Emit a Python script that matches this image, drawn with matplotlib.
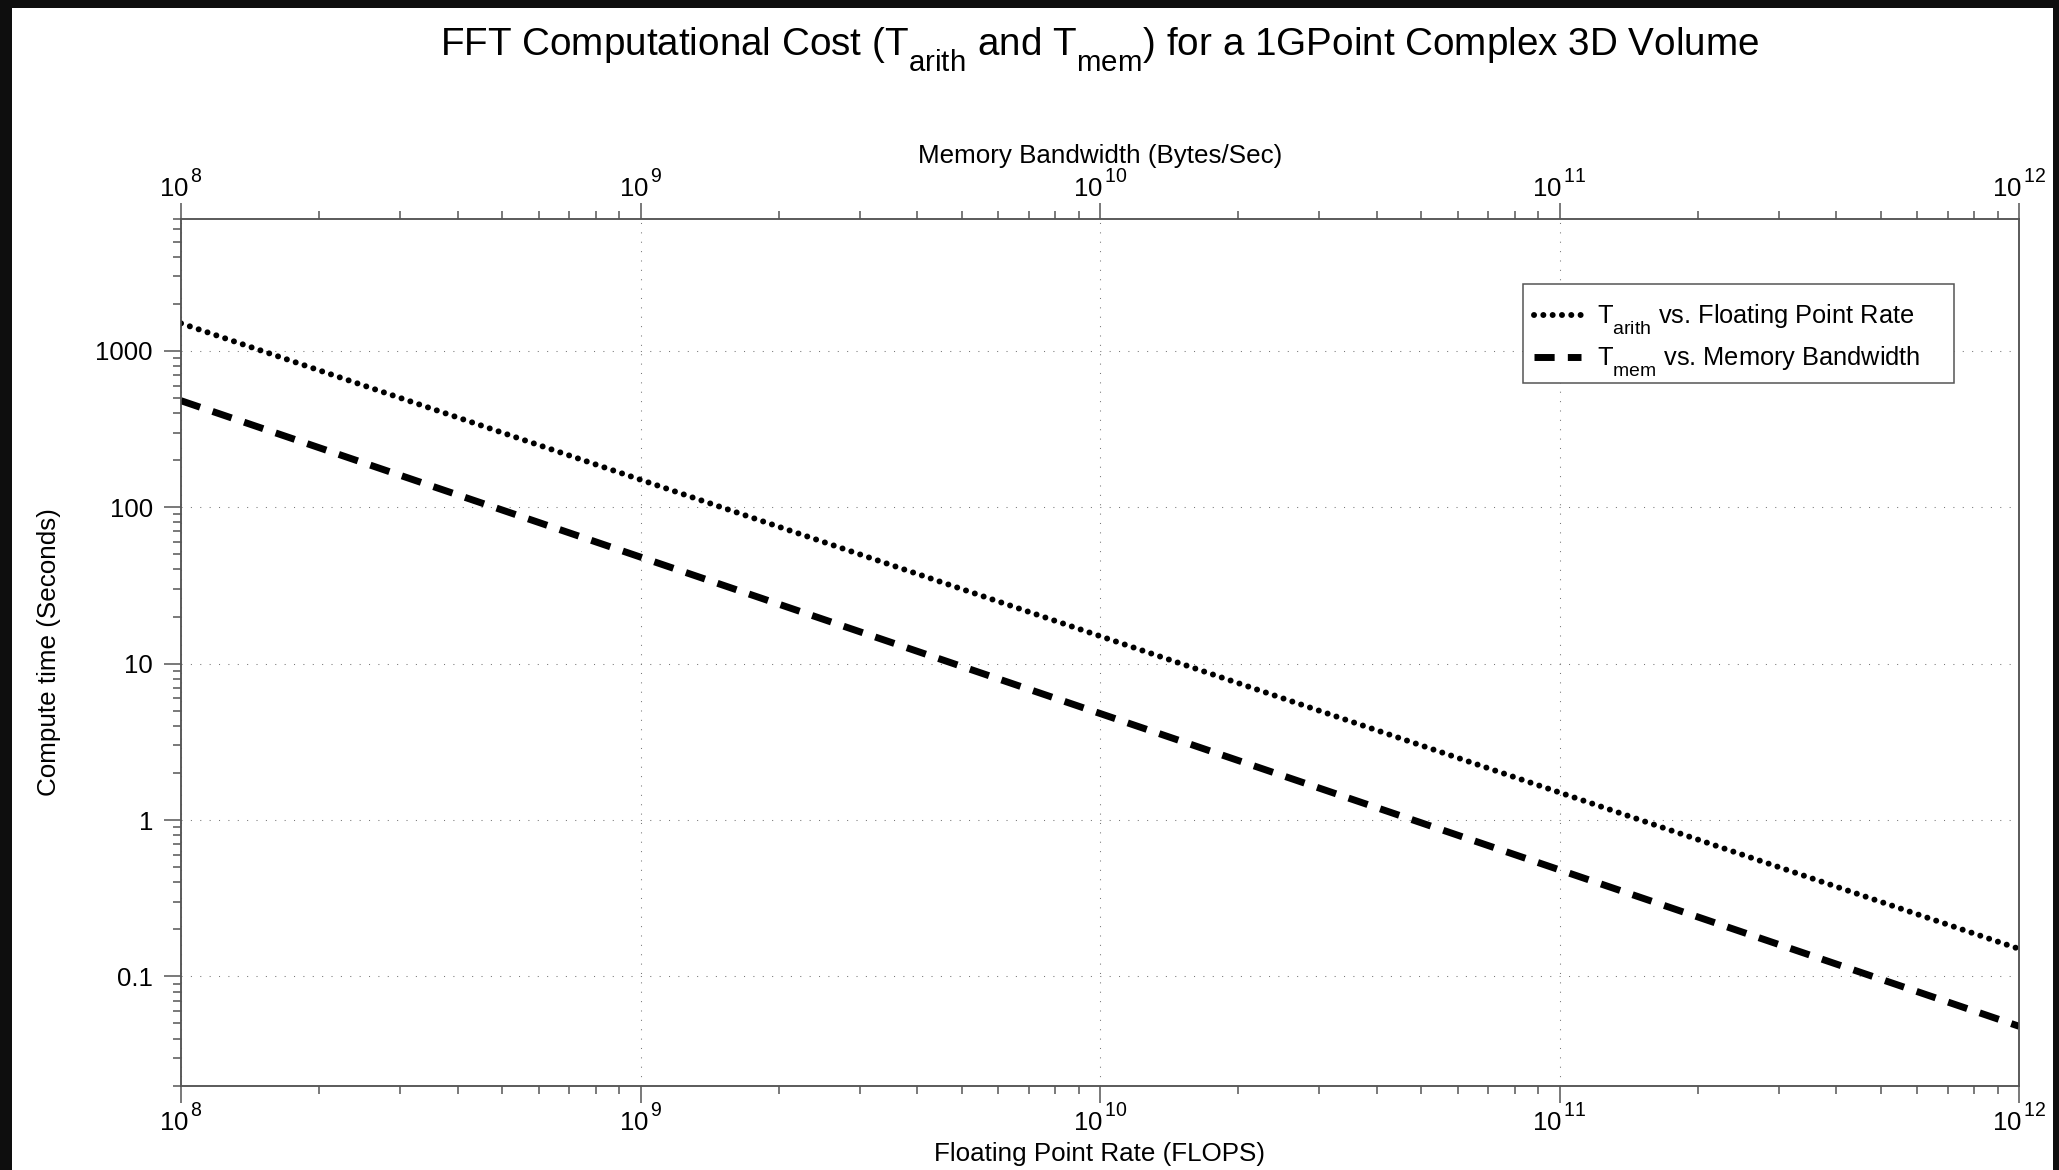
import matplotlib
matplotlib.use("Agg")
import matplotlib.pyplot as plt
import matplotlib._mathtext as _mt
from matplotlib.patches import Rectangle
from matplotlib.ticker import FixedLocator, FixedFormatter, NullFormatter, FuncFormatter
import numpy as np

# ---- data ----
rate = [1e8, 1e9, 1e10, 1e11, 1e12]            # FLOPS / Bytes per second
t_arith = [1500, 150, 15, 1.5, 0.15]            # seconds vs floating point rate
t_mem = [480, 48, 4.8, 0.48, 0.048]             # seconds vs memory bandwidth
y_ticks = [0.1, 1, 10, 100, 1000]
y_ticklabels = ["0.1", "1", "10", "100", "1000"]

title = r"FFT Computational Cost (T$_{\mathrm{arith}}$ and T$_{\mathrm{mem}}$) for a 1GPoint Complex 3D Volume"
label_arith = r"T$_{\mathrm{arith}}$ vs. Floating Point Rate"
label_mem = r"T$_{\mathrm{mem}}$ vs. Memory Bandwidth"

# larger, lower subscripts / higher superscripts like the reference
_mt.SHRINK_FACTOR = 0.76
_mt.FontConstantsBase.sub1 = 0.8
_mt.FontConstantsBase.sup1 = 1.05

plt.rcParams["font.family"] = ["Liberation Sans", "DejaVu Sans"]
plt.rcParams["mathtext.fontset"] = "custom"
plt.rcParams["mathtext.rm"] = "Liberation Sans"
plt.rcParams["mathtext.it"] = "Liberation Sans:italic"
plt.rcParams["mathtext.bf"] = "Liberation Sans:bold"

W, H = 2059, 1170
fig = plt.figure(figsize=(W / 100, H / 100), dpi=100)
fig.patch.set_facecolor("#0e0e0e")
fig.add_artist(Rectangle((12 / W, 0), (2053 - 12) / W, (H - 8) / H,
                         transform=fig.transFigure, facecolor="white",
                         edgecolor="none", zorder=-10))

x0, x1, ytop, ybot = 181, 2019, 218.7, 1085.7
ax = fig.add_axes([x0 / W, 1 - ybot / H, (x1 - x0) / W, (ybot - ytop) / H])
ax.set_facecolor("white")
ax.set_xscale("log")
ax.set_yscale("log")

spc = "#555555"
ax.grid(which="major", linestyle=(0, (1, 8)), color="#777777", linewidth=0.75, zorder=0)

ax.plot(rate, t_arith, color="black", linewidth=4.3, linestyle=(0, (0.01, 1.55)),
        dash_capstyle="round", label=label_arith, zorder=3)
ax.plot(rate, t_mem, color="black", linewidth=5.0, linestyle=(0, (2.9, 1.9)),
        dash_capstyle="butt", label=label_mem, zorder=3)

ax.set_xlim(1e8, 1e12)
ax.set_ylim(0.02, 7000)


def pow_fmt(v, pos):
    e = int(round(np.log10(v)))
    return r"$\mathdefault{10^{\,%d}}$" % e


ax.yaxis.set_major_locator(FixedLocator(y_ticks))
ax.yaxis.set_major_formatter(FixedFormatter(y_ticklabels))
ax.yaxis.set_minor_formatter(NullFormatter())
ax.xaxis.set_major_formatter(FuncFormatter(pow_fmt))
ax.xaxis.set_minor_formatter(NullFormatter())

for s in ax.spines.values():
    s.set_color(spc)
    s.set_linewidth(1.1)

TICK_FS = 18.5
ax.tick_params(which="major", direction="out", length=12.2, width=1.1, color=spc,
               labelsize=TICK_FS, labelcolor="black", right=False, top=False)
ax.tick_params(which="minor", direction="out", length=6, width=1.1, color=spc,
               right=False, top=False)
ax.tick_params(axis="y", which="major", pad=8)
ax.tick_params(axis="x", which="major", pad=1)

ax2 = ax.twiny()
ax2.set_xscale("log")
ax2.set_xlim(1e8, 1e12)
ax2.xaxis.set_major_formatter(FuncFormatter(pow_fmt))
ax2.xaxis.set_minor_formatter(NullFormatter())
for s in ax2.spines.values():
    s.set_color(spc)
    s.set_linewidth(1.1)
ax2.tick_params(which="major", direction="out", length=11.5, width=1.1, color=spc,
                labelsize=TICK_FS, labelcolor="black", pad=0.3)
ax2.tick_params(which="minor", direction="out", length=6, width=1.1, color=spc)

# legend frame (drawn separately so its padding matches the reference)
leg_x0, leg_x1, leg_y0, leg_y1 = 0.7301, 0.9646, 0.810, 0.9247
ax.add_patch(Rectangle((leg_x0, leg_y0), leg_x1 - leg_x0, leg_y1 - leg_y0,
                       transform=ax.transAxes, facecolor="white", edgecolor=spc,
                       linewidth=1.1, zorder=4))
leg = ax.legend(loc="upper left", bbox_to_anchor=(leg_x0, leg_y1 - 8 / 867),
                borderaxespad=0, fontsize=18.3, frameon=False,
                handlelength=1.85, handletextpad=0.64, borderpad=0.42, labelspacing=0.3)
leg.set_zorder(5)

LAB_FS = 18.7
fig.text(1100 / W, 1 - 55 / H, title, ha="center", va="baseline", fontsize=27.8)
fig.text(1100 / W, 1 - 163 / H, "Memory Bandwidth (Bytes/Sec)", ha="center",
         va="baseline", fontsize=LAB_FS)
fig.text(1100 / W, 1 - 1161 / H, "Floating Point Rate (FLOPS)", ha="center",
         va="baseline", fontsize=LAB_FS)
fig.text(49 / W, 1 - 652 / H, "Compute time (Seconds)", ha="center", va="center",
         rotation=90, fontsize=LAB_FS)

fig.savefig("out.png", dpi=100, facecolor=fig.get_facecolor())
